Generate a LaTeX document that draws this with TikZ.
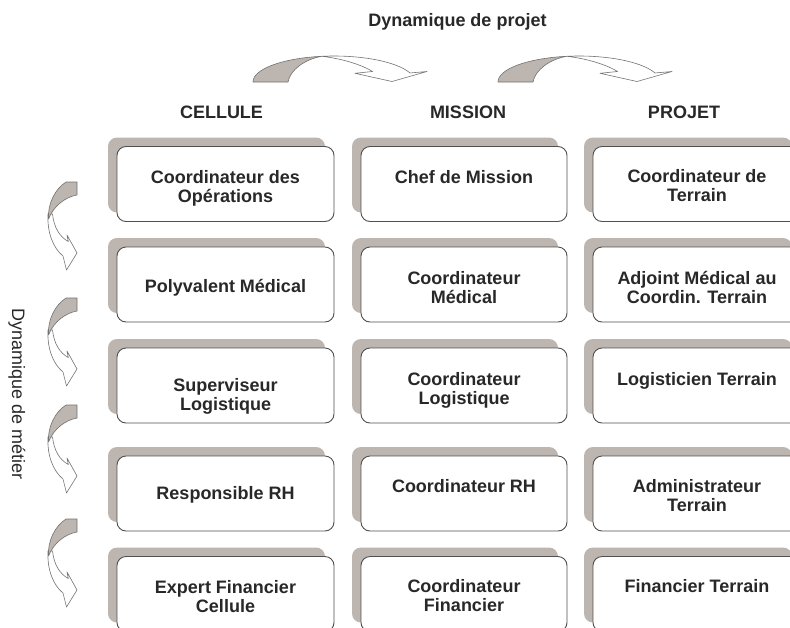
\documentclass[tikz,border=0pt]{standalone}
\usepackage{fontspec}
\setmainfont{Liberation Sans}
\usetikzlibrary{shadows,backgrounds}
\definecolor{taupe}{RGB}{189,181,175}
\definecolor{edge}{RGB}{80,80,80}
\definecolor{ink}{RGB}{40,40,40}
\definecolor{arrline}{RGB}{115,115,115}
\newcommand{\bt}[2]{\raisebox{#1}[\height][\depth]{\begin{tabular}{@{}c@{}}#2\end{tabular}}}
\begin{document}
\begin{tikzpicture}[x=1pt,y=-1pt,
  cell/.style={draw=edge, line width=0.9pt, fill=white, rounded corners=9pt,
    minimum height=75pt, inner sep=0pt, text=ink,
    font=\fontsize{18}{19}\selectfont\bfseries,
    drop shadow={shadow xshift=-9pt, shadow yshift=9pt, opacity=1, fill=taupe, draw=none}},
  wa/.style={minimum width=217pt},
  wb/.style={minimum width=206pt},
  wc/.style={minimum width=208pt},
  link/.style={draw=taupe, line width=4.5pt},
  hdr/.style={inner sep=0pt, text=ink, font=\fontsize{18}{19}\selectfont\bfseries},
  side/.style={inner sep=0pt, text=ink, font=\fontsize{18}{19}\selectfont},
  arrpart/.style={draw=arrline, line width=0.6pt, line join=round},
  toparrow/.pic={
    \filldraw[arrpart, fill=white] (322,56.3)
      -- plot[domain=261.5:339.7, samples=30] ({334+81*cos(\x)},{82+26*sin(\x)})
      -- (427,71.5) -- (392,81.5) -- (355,73.3) -- (372.5,71.5)
      .. controls (364,66) and (345,59) .. (322,56.3) -- cycle;
    \filldraw[arrpart, fill=taupe] (253,82)
      -- plot[domain=180:261.5, samples=30] ({334+81*cos(\x)},{82+26*sin(\x)})
      .. controls (305,59) and (290,70) .. (288,82) -- cycle;
  },
  leftarrow/.pic={
    \filldraw[arrpart, fill=white] (48,214)
      .. controls (47,232) and (53,248) .. (63,256)
      -- (66.5,270) -- (77,253) -- (67,235) -- (68.3,241.5)
      .. controls (60,237) and (54,228) .. (52.5,214) -- cycle;
    \filldraw[arrpart, fill=taupe] (66,182) -- (77,182) -- (77,195)
      .. controls (66,197) and (54,205) .. (48.5,219)
      .. controls (47.5,204) and (55,189) .. (66,182) -- cycle;
  }]
\useasboundingbox (0,0) rectangle (790,627);
\fill[white] (0,0) rectangle (790,627);

% titles and headers
\node[hdr, anchor=base] (tproj) at (457.5,26.7) {Dynamique de projet};
\node[side, rotate=-90] (tmet) at (17,394) {Dynamique de métier};
\node[hdr] (hcel) at (221.5,112.7) {CELLULE};
\node[hdr] (hmis) at (468,112.7) {MISSION};
\node[hdr] (hpro) at (684,112.7) {PROJET};

% curved arrows
\pic at (0,0) {toparrow};
\pic at (245,0) {toparrow};
\pic at (0,0) {leftarrow};
\pic at (0,116) {leftarrow};
\pic at (0,223) {leftarrow};
\pic at (0,337) {leftarrow};

% boxes
\node[cell,wa] (a1) at (225.5,184)   {\bt{-5pt}{Coordinateur des\\Opérations}};
\node[cell,wb] (b1) at (464,184)     {\bt{4.6pt}{Chef de Mission}};
\node[cell,wc] (c1) at (697,184)     {\bt{-4.2pt}{Coordinateur de\\Terrain}};
\node[cell,wa] (a2) at (225.5,284.5) {\bt{-3.9pt}{Polyvalent Médical}};
\node[cell,wb] (b2) at (464,284.5)   {\bt{-5.2pt}{Coordinateur\\Médical}};
\node[cell,wc] (c2) at (697,284.5)   {\bt{-5.2pt}{Adjoint Médical au\\Coordin. Terrain}};
\node[cell,wa] (a3) at (225.5,385.5) {\bt{-12pt}{Superviseur\\Logistique}};
\node[cell,wb] (b3) at (464,385.5)   {\bt{-5.9pt}{Coordinateur\\Logistique}};
\node[cell,wc] (c3) at (697,385.5)   {\bt{3.8pt}{Logisticien Terrain}};
\node[cell,wa] (a4) at (225.5,493.5) {\bt{-2.2pt}{Responsible RH}};
\node[cell,wb] (b4) at (464,493.5)   {\bt{4.5pt}{Coordinateur RH}};
\node[cell,wc] (c4) at (697,493.5)   {\bt{-4.2pt}{Administrateur\\Terrain}};
\node[cell,wa] (a5) at (225.5,594)   {\bt{-4.7pt}{Expert Financier\\Cellule}};
\node[cell,wb] (b5) at (464,594)     {\bt{-4.2pt}{Coordinateur\\Financier}};
\node[cell,wc] (c5) at (697,594)     {\bt{5.6pt}{Financier Terrain}};

% connectors
\begin{pgfonlayer}{background}
  \foreach \r in {1,...,5} {
    \draw[link] (a\r.east) -- (b\r.west);
    \draw[link] (b\r.east) -- (c\r.west);
  }
  \foreach \r/\s in {1/2,2/3,3/4,4/5} {
    \draw[link] ([xshift=1pt]a\r.south) -- ([xshift=1pt]a\s.north);
    \draw[link] ([xshift=6pt]b\r.south) -- ([xshift=6pt]b\s.north);
    \draw[link] ([xshift=5pt]c\r.south) -- ([xshift=5pt]c\s.north);
  }
\end{pgfonlayer}
\end{tikzpicture}
\end{document}
